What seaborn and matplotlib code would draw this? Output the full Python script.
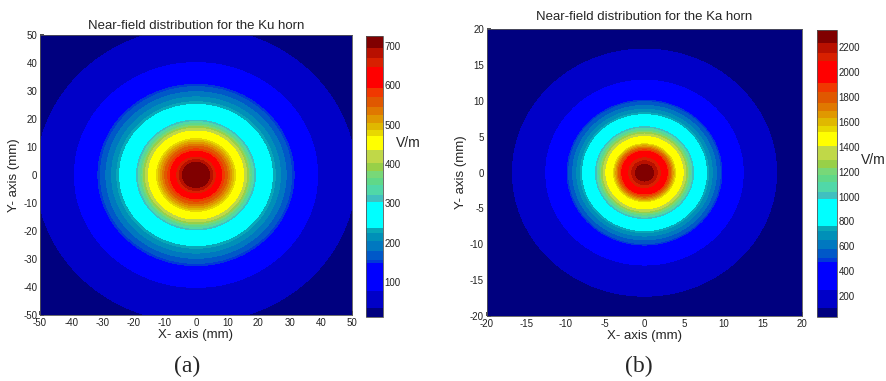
import numpy as np
import matplotlib
matplotlib.use("Agg")
import matplotlib.pyplot as plt
import seaborn as sns

# ---------------- data ----------------
# Ku horn: radial field profile (radius in mm, field in V/m)
ku_radius_mm = [0, 4.4, 6.2, 8.3, 12.6, 15.3, 19.0, 24.5, 31.0, 39.0, 51.0, 72.0]
ku_field = [720, 694, 647, 592, 472, 436, 304, 237, 153, 78, 35, 14]
ku_clim = [12, 725]
ku_cbar_ticks = [100, 200, 300, 400, 500, 600, 700]
ku_axis_ticks = [-50, -40, -30, -20, -10, 0, 10, 20, 30, 40, 50]
ku_y_stretch = 1.03

# Ka horn
ka_radius_mm = [0, 1.15, 2.0, 2.9, 3.9, 4.9, 6.2, 7.85, 9.8, 12.5, 16.7, 30.0]
ka_field = [2330, 2238, 2089, 1911, 1521, 1406, 977, 762, 476, 248, 107, 40]
ka_clim = [33, 2340]
ka_cbar_ticks = [200, 400, 600, 800, 1000, 1200, 1400, 1600, 1800, 2000, 2200]
ka_axis_ticks = [-20, -15, -10, -5, 0, 5, 10, 15, 20]
ka_y_stretch = 1.03

titles = ["Near-field distribution for the Ku horn", "Near-field distribution for the Ka horn"]
captions = ["(a)", "(b)"]

# ---------------- style: quantized jet colour blocks ----------------
block_edges = [0, .032, .093, .192, .204, .236, .269, .299, .316, .409, .435, .47, .494,
               .518, .547, .595, .645, .666, .692, .719, .746, .784, .814, .891, .921, .956, 1.0]
block_colors = ["#00007F", "#0000C8", "#0000FF", "#0038D8", "#0058C8", "#0078C0", "#0090B8",
                "#08A8B8", "#00FFFF", "#40C0C0", "#50D8A8", "#60D888", "#78D878", "#98D048",
                "#C0D848", "#FFFF00", "#E8D800", "#E0B800", "#E09800", "#E07800", "#E05800",
                "#F03800", "#FF0000", "#D82000", "#B81000", "#800000"]

sns.set_theme(style="white")
plt.rcParams['font.family'] = ['Liberation Sans', 'DejaVu Sans']
plt.rcParams['axes.unicode_minus'] = False

palette = sns.color_palette(block_colors)

fig = plt.figure(figsize=(8.87, 3.81), dpi=100)

panels = [
    dict(r=ku_radius_mm, e=ku_field, clim=ku_clim, cticks=ku_cbar_ticks, aticks=ku_axis_ticks,
         stretch=ku_y_stretch, ax=[40/887, 66/381, 312/887, 280/381],
         cax=[366/887, 64/381, 17.3/887, 281/381], vm=(396/887, 1-143/381), cap=(187/887, 1-366/381),
         title_pad=4),
    dict(r=ka_radius_mm, e=ka_field, clim=ka_clim, cticks=ka_cbar_ticks, aticks=ka_axis_ticks,
         stretch=ka_y_stretch, ax=[486.7/887, 65/381, 315.6/887, 286.7/381],
         cax=[817.3/887, 64.3/381, 20/887, 286.7/381], vm=(861/887, 1-160/381), cap=(639/887, 1-366/381),
         title_pad=6.5),
]

for i, p in enumerate(panels):
    ax = fig.add_axes(p["ax"])
    lim = max(p["aticks"])
    x = np.linspace(-lim, lim, 501)
    X, Y = np.meshgrid(x, x)
    R = np.sqrt(X**2 + (Y / p["stretch"])**2)
    E = np.interp(R, p["r"], p["e"])
    lo, hi = p["clim"]
    levels = [lo + f * (hi - lo) for f in block_edges]
    cs = ax.contourf(X, Y, E, levels=levels, colors=palette)
    ax.set_xlim(-lim, lim)
    ax.set_ylim(-lim, lim)
    ax.set_xticks(p["aticks"])
    ax.set_yticks(p["aticks"])
    ax.tick_params(direction="in", length=3, labelsize=7, pad=2, colors="#333333",
                   bottom=True, left=True)
    for lab in ax.get_xticklabels() + ax.get_yticklabels():
        lab.set_color("#222222")
    for s in ax.spines.values():
        s.set_linewidth(0.6)
        s.set_color("#555555")
    ax.set_xlabel("X- axis (mm)", fontsize=9.5, labelpad=1)
    ax.set_ylabel("Y- axis (mm)", fontsize=9.5, labelpad=2)
    ax.set_title(titles[i], fontsize=9.5, pad=p["title_pad"])

    cax = fig.add_axes(p["cax"])
    cb = fig.colorbar(cs, cax=cax, spacing="proportional", ticks=p["cticks"])
    cb.outline.set_linewidth(0.6)
    cb.outline.set_edgecolor("#555555")
    cax.tick_params(direction="in", length=3, labelsize=7, pad=1, colors="#222222")
    fig.text(p["vm"][0], p["vm"][1], "V/m", fontsize=10, ha="left", va="center")
    fig.text(p["cap"][0], p["cap"][1], captions[i], fontsize=17, ha="center", va="center",
             family=["Liberation Serif", "DejaVu Serif"])

fig.savefig("out.png", dpi=100)
